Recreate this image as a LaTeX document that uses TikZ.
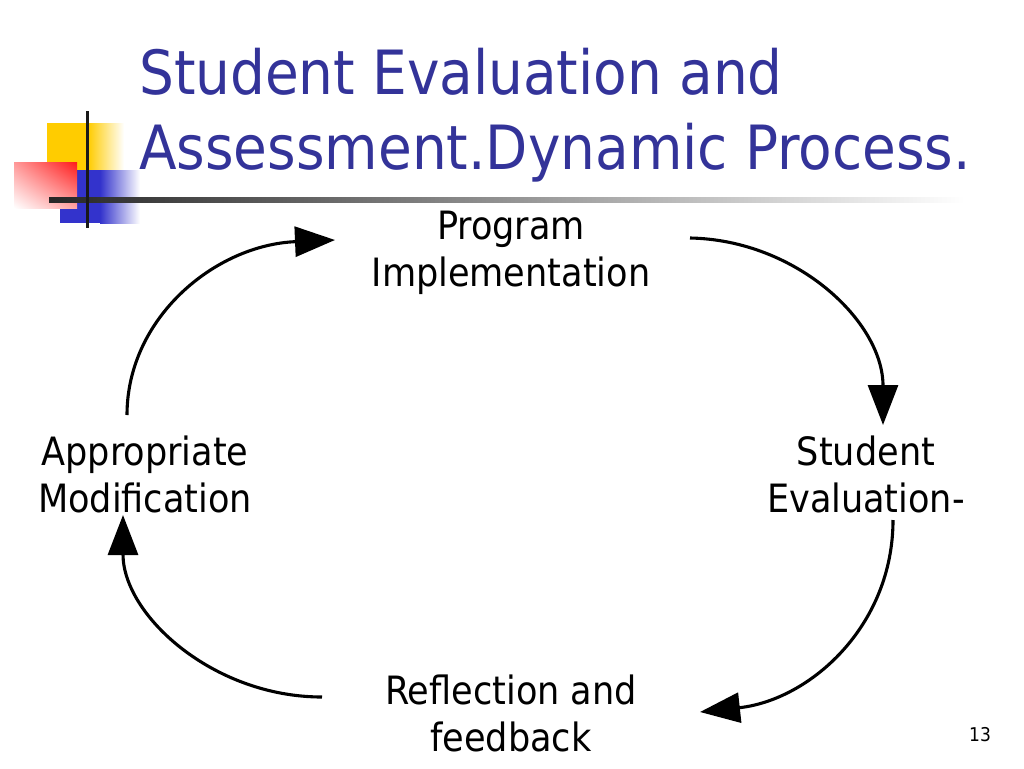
\documentclass[tikz,border=0pt]{standalone}
\usepackage{fontspec}
\setmainfont{DejaVu Sans Condensed}
\usetikzlibrary{arrows.meta,shadings}
\definecolor{titleblue}{HTML}{333399}
\definecolor{decoyellow}{HTML}{FFCC00}
\definecolor{decoblue}{HTML}{3333CC}
\definecolor{decored}{HTML}{FF1A1A}
\begin{document}
\begin{tikzpicture}[x=1pt,y=-1pt,
  lbl/.style={font=\fontsize{39}{47}\selectfont, align=center, inner sep=0pt, text=black},
  ttl/.style={font=\fontsize{61}{75}\selectfont, align=left, inner sep=0pt, text=titleblue},
  cyc/.style={line width=3.1pt, -{Triangle[length=40pt,width=30pt]}}]
\useasboundingbox (0,0) rectangle (1024,768);
\fill[white] (0,0) rectangle (1024,768);
% decoration
\fill[decoyellow] (47,123) rectangle (88,170);
\shade[left color=decoyellow, right color=white] (88,123) rectangle (124,170);
\fill[decoblue] (60,170) rectangle (100,223);
\shade[left color=decoblue, right color=white] (100,170) rectangle (140,223);
\shade[upper right=decored, lower left=white, upper left=decored!45!white, lower right=decored!40!white] (14,162) rectangle (77,208);
\shade[left color=black!85, right color=white] (49,197.5) rectangle (965,202.5);
\fill[black!90] (85.5,111) rectangle (89,228);
% title
\node[ttl, anchor=north west] (title) at (139,48) {Student Evaluation and\\Assessment.Dynamic Process.};
% labels
\node[lbl] (prog) at (511,253) {Program\\Implementation};
\node[lbl] (mod) at (145,474) {Appropriate\\Modification};
\node[lbl] (eval) at (866,474) {Student\\Evaluation-};
\node[lbl] (refl) at (511,713) {Reflection and\\feedback};
\node[font=\fontsize{19}{22}\selectfont, inner sep=0pt] (pg) at (980,735) {13};
% connector end points
\coordinate (a1s) at (127,415);
\coordinate (a1e) at (335,240);
\coordinate (a2s) at (690,238);
\coordinate (a2e) at (883,425);
\coordinate (a3s) at (893,520);
\coordinate (a3e) at (700,712);
\coordinate (a4s) at (322,697);
\coordinate (a4e) at (123,515);
\draw[cyc] (a1s) .. controls (127,318) and (215,245) .. (a1e);
\draw[cyc] (a2s) .. controls (797,240) and (883,322) .. (a2e);
\draw[cyc] (a3s) .. controls (893,626) and (810,700) .. (a3e);
\draw[cyc] (a4s) .. controls (213,697) and (123,615) .. (a4e);
\end{tikzpicture}
\end{document}
